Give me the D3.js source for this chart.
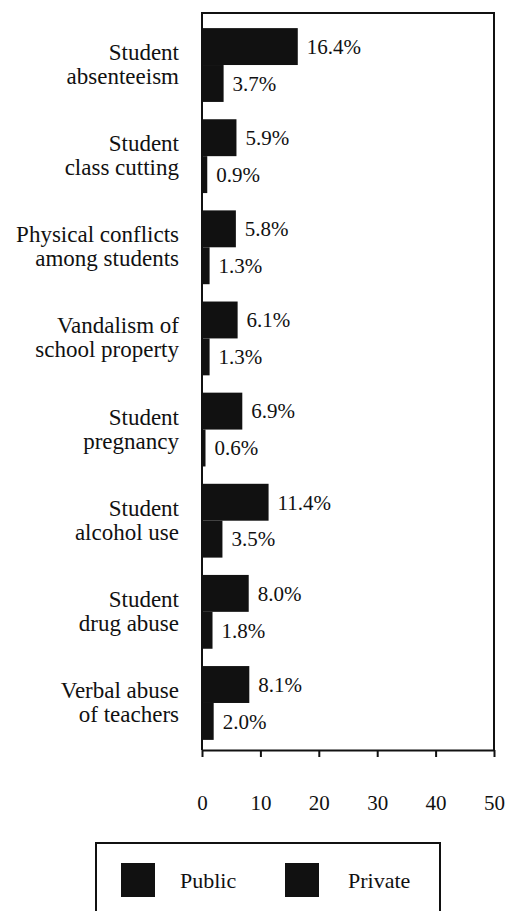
<!DOCTYPE html>
<html>
<head>
<meta charset="utf-8">
<script src="https://cdn.jsdelivr.net/npm/d3@7"></script>
<style>
  body { margin: 0; background: #fff; }
  svg text { font-family: "Liberation Serif", "Times New Roman", Times, "DejaVu Serif", serif; fill: #111; }
</style>
</head>
<body>
<script>
var categories = [
  ["Student", "absenteeism"],
  ["Student", "class cutting"],
  ["Physical conflicts", "among students"],
  ["Vandalism of", "school property"],
  ["Student", "pregnancy"],
  ["Student", "alcohol use"],
  ["Student", "drug abuse"],
  ["Verbal abuse", "of teachers"]
];
var publicValues = [16.4, 5.9, 5.8, 6.1, 6.9, 11.4, 8.0, 8.1];
var privateValues = [3.7, 0.9, 1.3, 1.3, 0.6, 3.5, 1.8, 2.0];
var seriesNames = ["Public", "Private"];
var xTicks = [0, 10, 20, 30, 40, 50];

var width = 509, height = 911;
var plotTop = 13, plotBottom = 750;
var serif = "'Liberation Serif', 'Times New Roman', Times, 'DejaVu Serif', serif";

var data = categories.map(function(c, i) {
  return {key: c.join(" "), lines: c, Public: publicValues[i], Private: privateValues[i]};
});

var svg = d3.select("body").append("svg")
  .attr("width", width)
  .attr("height", height)
  .attr("font-family", serif);

svg.append("rect")
  .attr("width", width)
  .attr("height", height)
  .attr("fill", "#fff");

var x = d3.scaleLinear()
  .domain([0, 50])
  .range([202, 494]);

var y = d3.scaleBand()
  .domain(data.map(function(d) { return d.key; }))
  .range([19, 749])
  .paddingInner(0.19)
  .paddingOuter(0.1);

var ySub = d3.scaleBand()
  .domain(seriesNames)
  .range([0, y.bandwidth()]);

// frame: top, left and right sides (bottom is the axis)
svg.append("path")
  .attr("d", "M" + x(0) + "," + plotBottom + "V" + plotTop + "H" + x(50) + "V" + plotBottom)
  .attr("fill", "none")
  .attr("stroke", "#111")
  .attr("stroke-width", 2);

var xAxis = svg.append("g")
  .attr("transform", "translate(0," + plotBottom + ")")
  .call(d3.axisBottom(x).tickValues(xTicks).tickSize(7).tickPadding(38).tickSizeOuter(0));

xAxis.attr("font-family", serif).attr("font-size", 21);
xAxis.select(".domain").attr("stroke", "#111").attr("stroke-width", 2);
xAxis.selectAll(".tick line").attr("stroke", "#111").attr("stroke-width", 2);
xAxis.selectAll(".tick text")
  .style("font-family", serif)
  .style("font-size", "21px")
  .attr("fill", "#111");

var groups = svg.selectAll(".group")
  .data(data)
.enter().append("g")
  .attr("class", "group")
  .attr("transform", function(d) { return "translate(0," + y(d.key) + ")"; });

groups.selectAll("rect")
  .data(function(d) { return seriesNames.map(function(s) { return {name: s, value: d[s]}; }); })
.enter().append("rect")
  .attr("x", x(0))
  .attr("y", function(d) { return ySub(d.name); })
  .attr("width", function(d) { return x(d.value) - x(0); })
  .attr("height", ySub.bandwidth())
  .attr("fill", "#111");

groups.selectAll(".val")
  .data(function(d) { return seriesNames.map(function(s) { return {name: s, value: d[s]}; }); })
.enter().append("text")
  .attr("class", "val")
  .attr("x", function(d) { return x(d.value) + 9; })
  .attr("y", function(d) { return ySub(d.name) + ySub.bandwidth() / 2; })
  .attr("dy", "0.35em")
  .style("font-size", "21px")
  .text(function(d) { return d.value.toFixed(1) + "%"; });

var labels = groups.append("text")
  .attr("text-anchor", "end")
  .style("font-size", "23px");

labels.selectAll("tspan")
  .data(function(d) { return d.lines; })
.enter().append("tspan")
  .attr("x", 179)
  .attr("y", function(d, i) { return y.bandwidth() / 2 - 5 + i * 24; })
  .text(function(d) { return d; });

// legend
var legend = svg.append("g");

legend.append("rect")
  .attr("x", 96)
  .attr("y", 843)
  .attr("width", 344)
  .attr("height", 100)
  .attr("fill", "none")
  .attr("stroke", "#111")
  .attr("stroke-width", 2);

var legendX = [121, 285];

var items = legend.selectAll(".item")
  .data(seriesNames)
.enter().append("g")
  .attr("class", "item")
  .attr("transform", function(d, i) { return "translate(" + legendX[i] + ",863)"; });

items.append("rect")
  .attr("width", 34)
  .attr("height", 34)
  .attr("fill", "#111");

items.append("text")
  .attr("x", function(d, i) { return i === 0 ? 59 : 63; })
  .attr("y", 25)
  .style("font-size", "22px")
  .text(function(d) { return d; });
</script>
</body>
</html>
